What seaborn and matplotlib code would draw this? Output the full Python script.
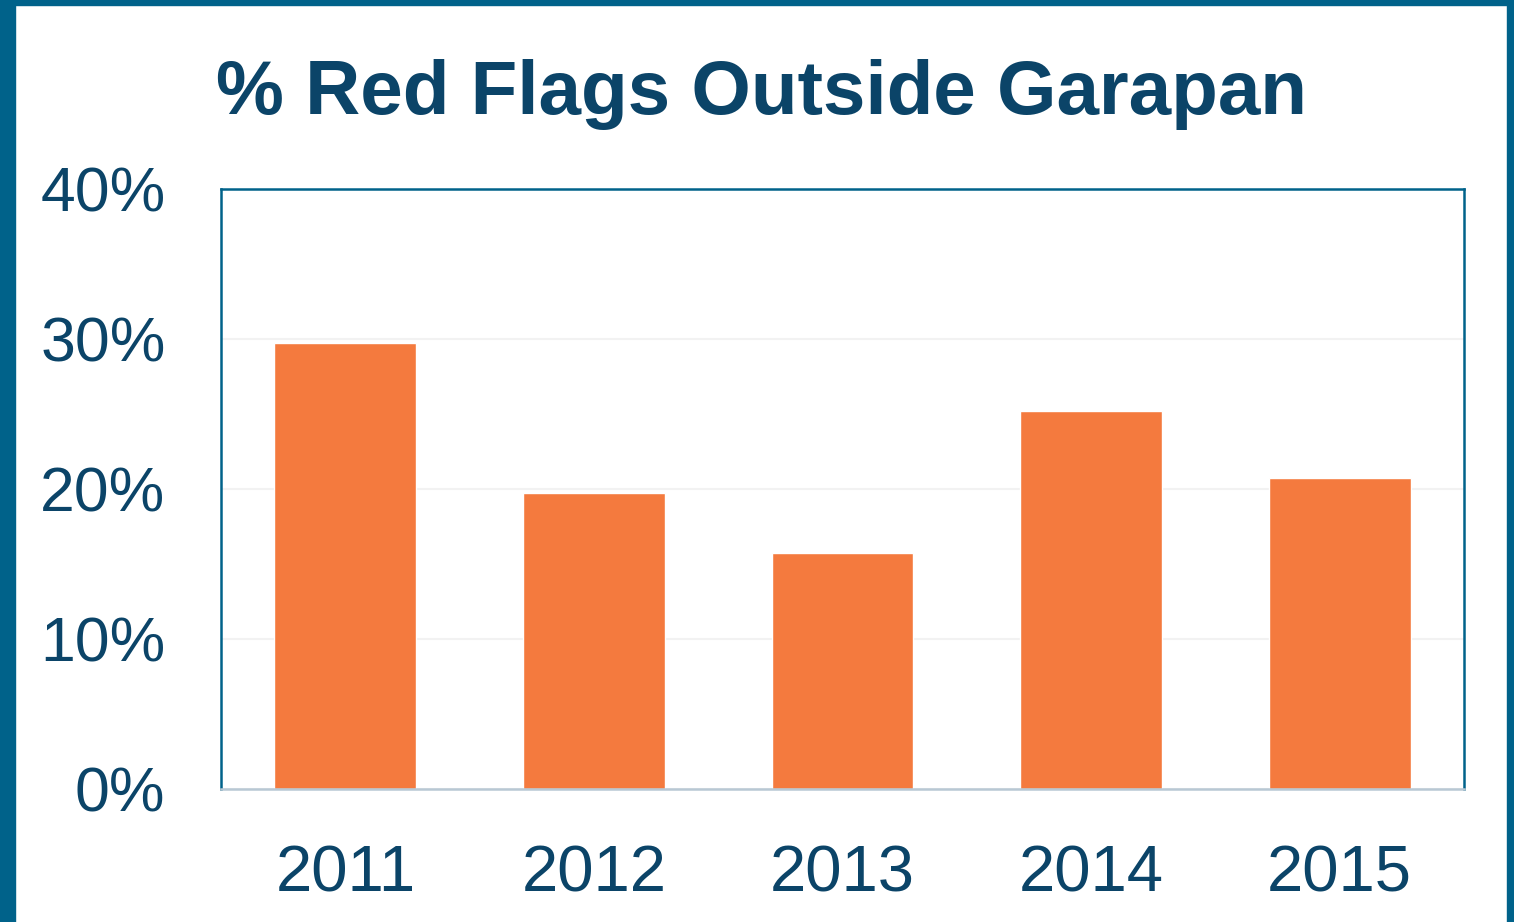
import matplotlib
matplotlib.use("Agg")
import matplotlib.pyplot as plt
from matplotlib.patches import Rectangle
from matplotlib.ticker import FuncFormatter
import pandas as pd
import seaborn as sns

# data
years = ["2011", "2012", "2013", "2014", "2015"]
red_flags_pct = [29.7, 19.7, 15.7, 25.2, 20.7]

sns.set_style("white")
plt.rcParams['font.family'] = ['Liberation Sans', 'DejaVu Sans']

navy = "#0B4468"
border = "#00628A"
orange = "#F47A3E"

df = pd.DataFrame({"year": years, "pct": red_flags_pct})

fig = plt.figure(figsize=(15.14, 9.22), dpi=100)
ax = fig.add_axes([0.146, 0.1443, 0.821, 0.6508])

sns.barplot(data=df, x="year", y="pct", color=orange, saturation=1,
            width=0.57, ax=ax)

ax.set_ylim(0, 40)
ax.set_yticks([0, 10, 20, 30, 40])
ax.yaxis.set_major_formatter(FuncFormatter(lambda v, p: f"{v:.0f}%"))
ax.grid(axis="y", color="#F2F2F2", linewidth=1.5)
ax.set_axisbelow(True)
ax.set_xlabel("")
ax.set_ylabel("")

ax.tick_params(axis="y", labelsize=45, colors=navy, length=0, pad=40)
ax.tick_params(axis="x", labelsize=47, colors=navy, length=0, pad=40)

for side in ["top", "left", "right"]:
    ax.spines[side].set_color(border)
    ax.spines[side].set_linewidth(1.8)
ax.spines["bottom"].set_color("#B8C8D4")
ax.spines["bottom"].set_linewidth(1.8)

fig.text(0.503, 0.898, "% Red Flags Outside Garapan", ha="center", va="center",
         fontsize=55, fontweight="bold", color=navy)

# frame around the slide
fig.add_artist(Rectangle((0, 0), 15 / 1514, 1, transform=fig.transFigure,
                         color=border, zorder=10))
fig.add_artist(Rectangle((0, 1 - 5 / 922), 1, 5 / 922, transform=fig.transFigure,
                         color=border, zorder=10))
fig.add_artist(Rectangle((1 - 7 / 1514, 0), 7 / 1514, 1, transform=fig.transFigure,
                         color=border, zorder=10))

fig.savefig("out.png", dpi=100)
